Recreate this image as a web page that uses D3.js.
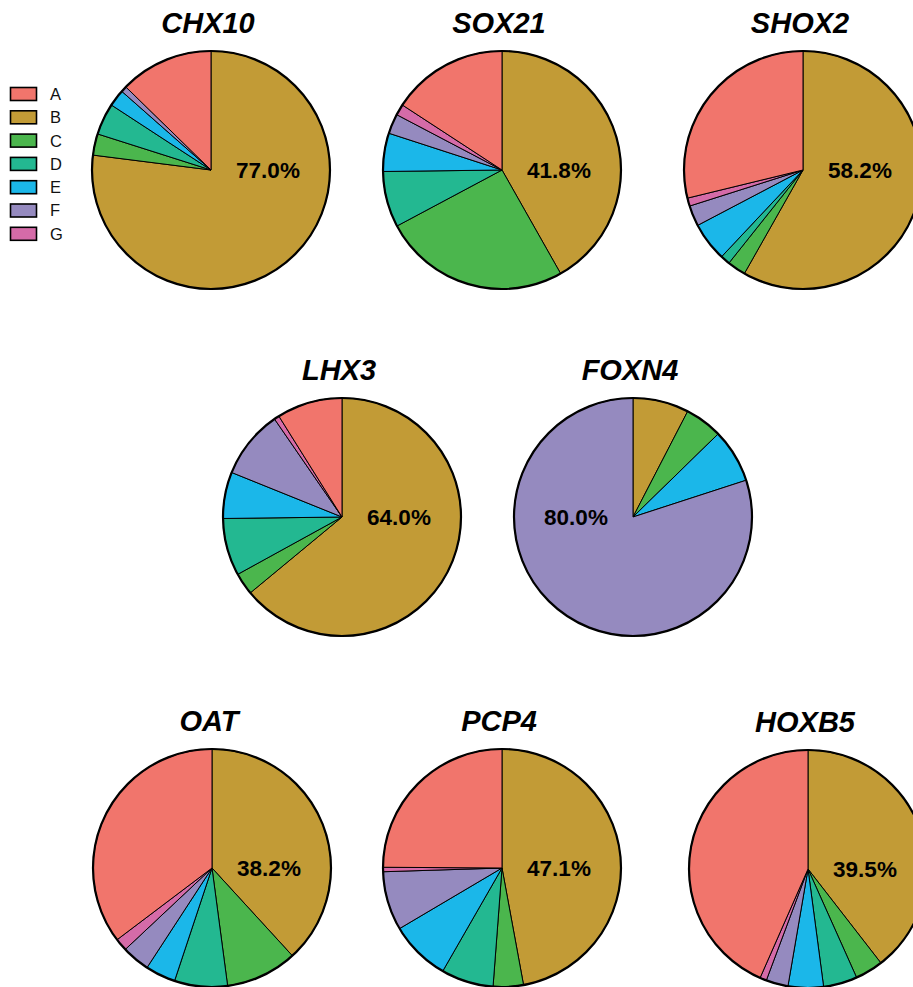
<!DOCTYPE html>
<html>
<head>
<meta charset="utf-8">
<script src="https://cdn.jsdelivr.net/npm/d3@7"></script>
<style>
  html, body { margin: 0; padding: 0; background: #ffffff; }
  svg { display: block; }
</style>
</head>
<body>
<svg id="chart" width="913" height="987"></svg>
<script>
// Cell-type composition (%) per gene, categories A–G
const categories = ["A", "B", "C", "D", "E", "F", "G"];
const genes = ["CHX10", "SOX21", "SHOX2", "LHX3", "FOXN4", "OAT", "PCP4", "HOXB5"];

//               A     B     C     D     E     F     G
const chx10 = [12.7, 77.0,  2.9,  4.3,  2.3,  0.8,  0.0];
const sox21 = [15.8, 41.8, 25.4,  7.6,  5.2,  2.7,  1.5];
const shox2 = [28.8, 58.2,  2.5,  1.3,  5.3,  2.8,  1.1];
const lhx3  = [ 8.9, 64.0,  3.0,  7.8,  6.3,  9.3,  0.7];
const foxn4 = [ 0.0,  7.6,  5.1,  0.0,  7.3, 80.0,  0.0];
const oat   = [35.3, 38.2,  9.7,  7.2,  4.1,  3.8,  1.7];
const pcp4  = [24.9, 47.1,  4.1,  7.1,  8.2,  8.0,  0.6];
const hoxb5 = [43.4, 39.5,  3.8,  4.6,  4.8,  3.0,  0.9];

const seriesValues = [chx10, sox21, shox2, lhx3, foxn4, oat, pcp4, hoxb5];

// Category whose share is printed on each pie
const labelledCategory = ["B", "B", "B", "B", "F", "B", "B", "B"];

// Slices run clockwise from 12 o'clock in this order
const sliceOrder = ["B", "C", "D", "E", "F", "G", "A"];

const colors = ["#F1756C", "#C29B36", "#4BB64D", "#23B891", "#1BB7E9", "#958ABF", "#D56BA8"];
const color = d3.scaleOrdinal().domain(categories).range(colors);

// Panel placement: three rows, the middle row shifted half a column
const radius = 119;
const panels = [
  { cx: 211, cy: 170 }, { cx: 502, cy: 170 }, { cx: 803, cy: 170 },
  { cx: 342, cy: 517 }, { cx: 633, cy: 517 },
  { cx: 212, cy: 868 }, { cx: 502, cy: 868 }, { cx: 808, cy: 869 }
];

const svg = d3.select("#chart");

const pie = d3.pie()
  .sort(null)
  .value(d => d.value)
  .startAngle(0)
  .endAngle(2 * Math.PI);

const arc = d3.arc().innerRadius(0).outerRadius(radius);

genes.forEach((gene, i) => {
  const vals = seriesValues[i];
  const rows = sliceOrder.map(c => ({ cat: c, value: vals[categories.indexOf(c)] }));
  const { cx, cy } = panels[i];
  const g = svg.append("g").attr("transform", `translate(${cx},${cy})`);

  const arcs = pie(rows).filter(d => d.data.value > 0);

  g.selectAll("path.slice")
    .data(arcs)
    .join("path")
    .attr("class", "slice")
    .attr("d", arc)
    .attr("fill", d => color(d.data.cat))
    .attr("stroke", "#000")
    .attr("stroke-width", 1)
    .attr("stroke-linejoin", "round");

  // heavier outer rim
  g.append("circle")
    .attr("r", radius)
    .attr("fill", "none")
    .attr("stroke", "#000")
    .attr("stroke-width", 2.2);

  // gene title
  g.append("text")
    .attr("x", -3)
    .attr("y", -137)
    .attr("text-anchor", "middle")
    .attr("font-family", "Liberation Sans, Arial, sans-serif")
    .attr("font-weight", "bold")
    .attr("font-style", "italic")
    .attr("font-size", 29)
    .attr("fill", "#000")
    .text(gene);

  // share of the highlighted category, set on the side where its slice lies
  const lab = arcs.find(d => d.data.cat === labelledCategory[i]);
  const mid = (lab.startAngle + lab.endAngle) / 2;
  const side = Math.sin(mid) >= 0 ? 1 : -1;
  g.append("text")
    .attr("x", side * 57)
    .attr("y", 0)
    .attr("dy", "0.36em")
    .attr("text-anchor", "middle")
    .attr("font-family", "Liberation Sans, Arial, sans-serif")
    .attr("font-weight", "bold")
    .attr("font-size", 22.5)
    .attr("fill", "#000")
    .text(d3.format(".1f")(lab.data.value) + "%");
});

// legend
const legend = svg.append("g").attr("transform", "translate(10,87)");
const item = legend.selectAll("g.item")
  .data(categories)
  .join("g")
  .attr("class", "item")
  .attr("transform", (d, i) => `translate(0,${i * 23.3})`);

item.append("rect")
  .attr("x", 0.5)
  .attr("y", 0.5)
  .attr("width", 26)
  .attr("height", 13)
  .attr("fill", d => color(d))
  .attr("stroke", "#000")
  .attr("stroke-width", 1.6);

item.append("text")
  .attr("x", 40)
  .attr("y", 7)
  .attr("dy", "0.36em")
  .attr("font-family", "Liberation Sans, Arial, sans-serif")
  .attr("font-size", 16.5)
  .attr("fill", "#111")
  .text(d => d);
</script>
</body>
</html>
